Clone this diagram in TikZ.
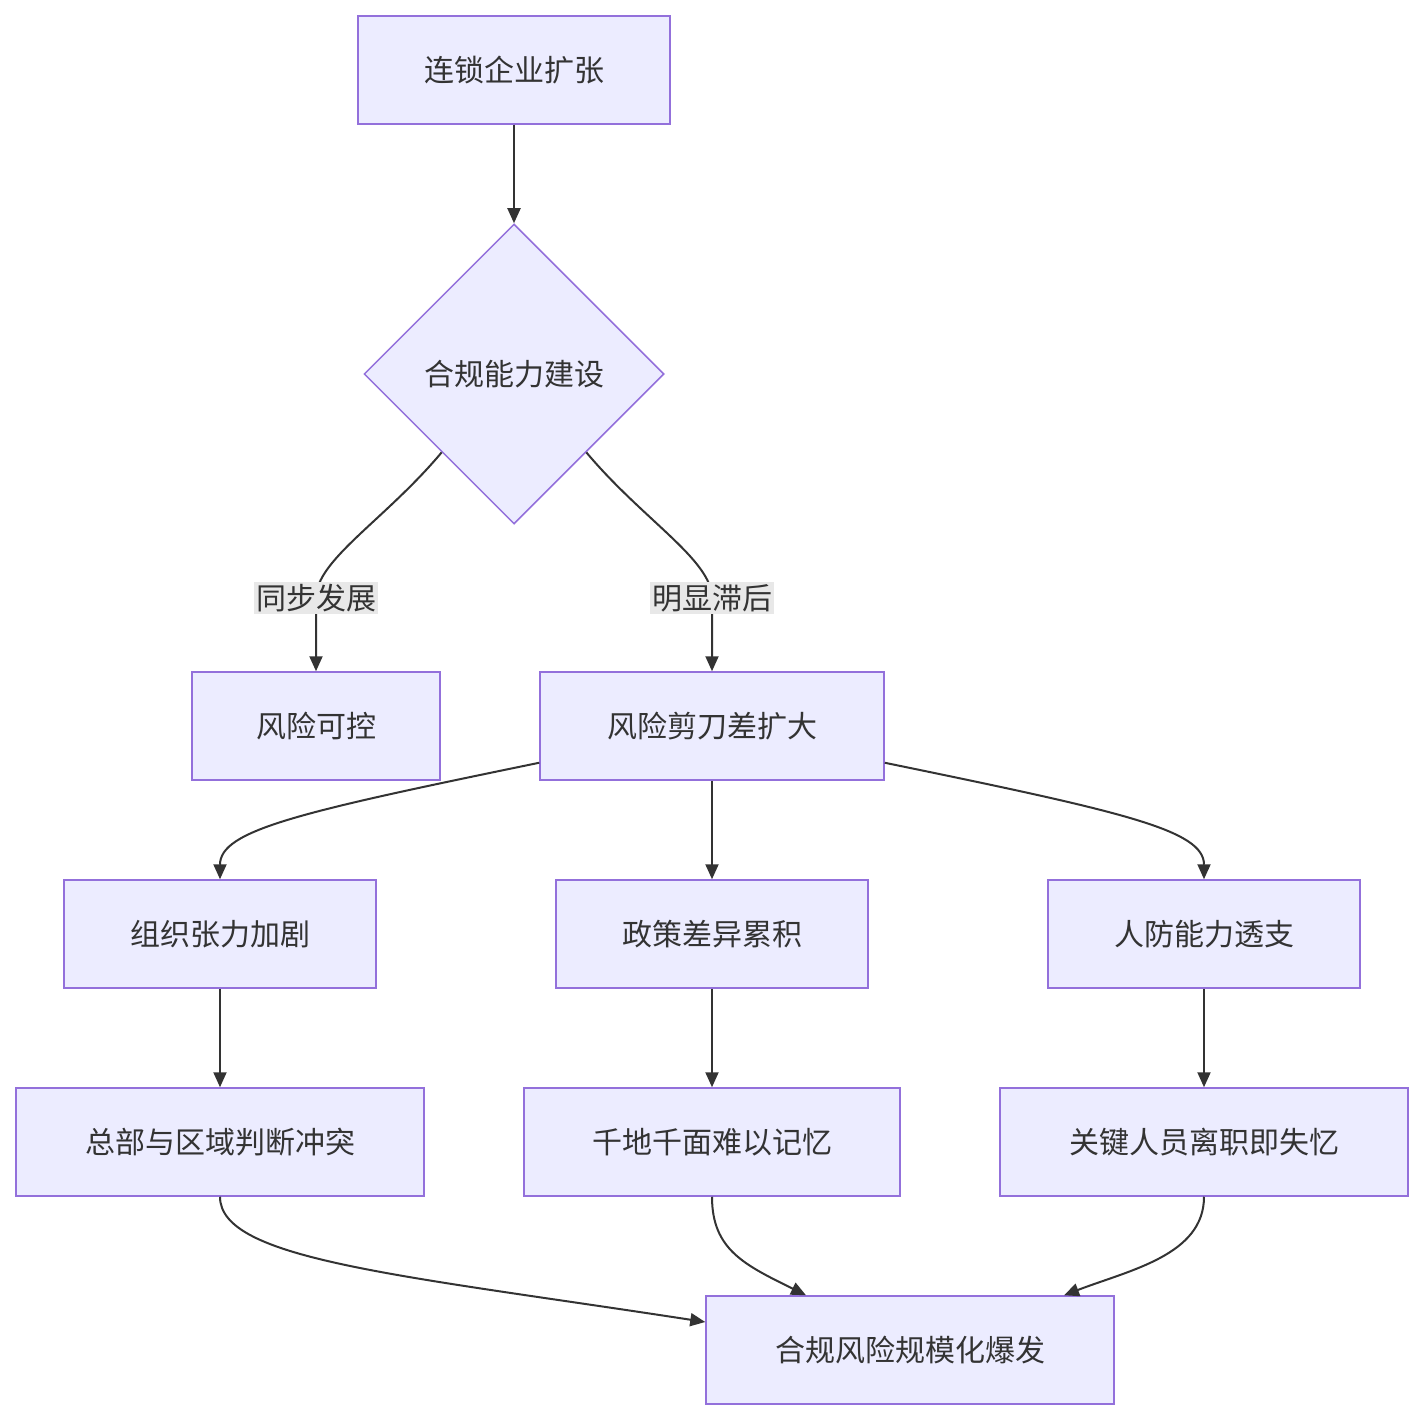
\documentclass[tikz,border=0pt]{standalone}
\usepackage{fontspec}
\setmainfont{Noto Sans CJK SC}
\usetikzlibrary{shapes.geometric,arrows.meta,calc}
\definecolor{boxfill}{HTML}{ECECFF}
\definecolor{boxline}{HTML}{9370DB}
\definecolor{edgecol}{HTML}{333333}
\definecolor{lblfill}{HTML}{E8E8E8}
\tikzset{
  box/.style={draw=boxline,fill=boxfill,line width=1.5pt,minimum height=108pt,inner sep=0pt,font=\fontsize{30pt}{36pt}\selectfont,text=edgecol},
  dia/.style={diamond,draw=boxline,fill=boxfill,line width=1.5pt,minimum width=300pt,minimum height=300pt,inner sep=0pt,font=\fontsize{30pt}{36pt}\selectfont,text=edgecol},
  edge/.style={draw=edgecol,line width=2pt,-{Triangle[length=15pt,width=13pt]}},
  lbl/.style={fill=lblfill,inner sep=2pt,font=\fontsize{30pt}{36pt}\selectfont,text=edgecol}
}
\begin{document}
\begin{tikzpicture}[x=1pt,y=-1pt]
\useasboundingbox (0,0) rectangle (1424,1420);
% nodes
\node[box,minimum width=312pt] (expand) at (514,70) {连锁企业扩张};
\node[dia] (build) at (514,374) {合规能力建设};
\node[box,minimum width=248pt] (ctrl) at (316,726) {风险可控};
\node[box,minimum width=344pt] (gap) at (712,726) {风险剪刀差扩大};
\node[box,minimum width=312pt] (org) at (220,934) {组织张力加剧};
\node[box,minimum width=312pt] (policy) at (712,934) {政策差异累积};
\node[box,minimum width=312pt] (staff) at (1204,934) {人防能力透支};
\node[box,minimum width=408pt] (hq) at (220,1142) {总部与区域判断冲突};
\node[box,minimum width=376pt] (local) at (712,1142) {千地千面难以记忆};
\node[box,minimum width=408pt] (leave) at (1204,1142) {关键人员离职即失忆};
\node[box,minimum width=408pt] (burst) at (910,1350) {合规风险规模化爆发};
% edges
\draw[edge] (expand) -- (build);
\draw[edge] ($(build.west)!0.52!(build.south)$) .. controls (385,520) and (316,560) .. (316,598) -- (ctrl.north);
\draw[edge] ($(build.east)!0.52!(build.south)$) .. controls (643,520) and (712,560) .. (712,598) -- (gap.north);
\node[lbl] (l1) at (316,598) {同步发展};
\node[lbl] (l2) at (712,598) {明显滞后};
\draw[edge] ($(gap.south west)+(0,-18)$) .. controls (300,812) and (220,830) .. (org.north);
\draw[edge] (gap) -- (policy);
\draw[edge] ($(gap.south east)+(0,-18)$) .. controls (1124,812) and (1204,830) .. (staff.north);
\draw[edge] (org) -- (hq);
\draw[edge] (policy) -- (local);
\draw[edge] (staff) -- (leave);
\draw[edge] (hq.south) .. controls (220,1260) and (400,1275) .. ($(burst.west)+(0,-28)$);
\draw[edge] (local.south) .. controls (712,1250) and (745,1265) .. ($(burst.north)+(-104,0)$);
\draw[edge] (leave.south) .. controls (1204,1255) and (1130,1270) .. ($(burst.north)+(154,0)$);
\end{tikzpicture}
\end{document}
